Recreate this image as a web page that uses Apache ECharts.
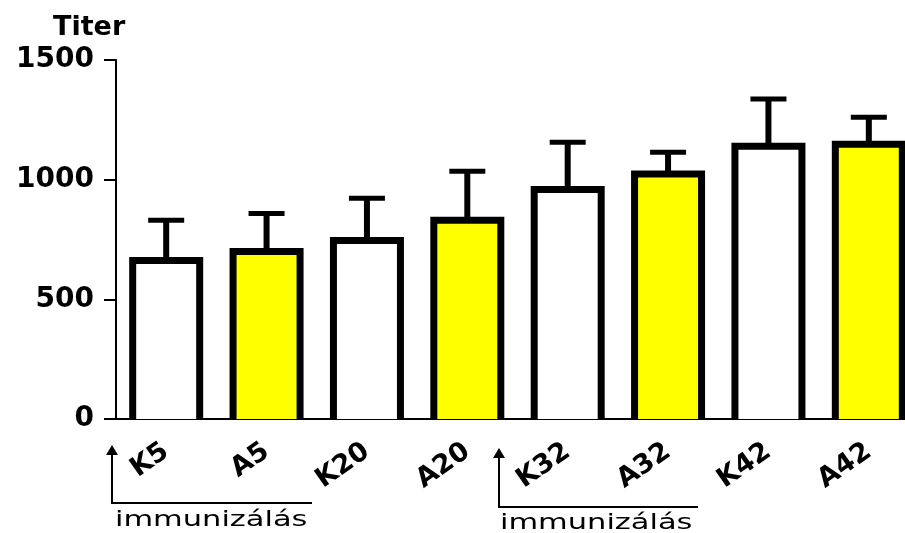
<!DOCTYPE html>
<html>
<head>
<meta charset="utf-8">
<script src="https://cdn.jsdelivr.net/npm/echarts@6/dist/echarts.min.js"></script>
<style>
html,body{margin:0;padding:0;background:#fff;}
#chart{width:905px;height:533px;}
</style>
</head>
<body>
<div id="chart"></div>
<script>
// Data
const categories = ['K5', 'A5', 'K20', 'A20', 'K32', 'A32', 'K42', 'A42'];
const means = [662, 700, 746, 830, 959, 1024, 1140, 1148];
const sdUpper = [168, 159, 176, 205, 197, 91, 197, 113];
const yTicks = [0, 500, 1000, 1500];
const axisTitle = 'Titer';
const noteText = 'immunizálás';

const chart = echarts.init(document.getElementById('chart'), null, {renderer: 'canvas'});

const barData = categories.map((c, i) => [i, means[i]]);
const errData = categories.map((c, i) => [i, means[i], sdUpper[i]]);
const BAR_W = 67, BORDER = 7;

const option = {
  animation: false,
  backgroundColor: '#ffffff',
  title: {
    text: axisTitle,
    left: 48,
    top: 9,
    textStyle: {fontFamily: 'DejaVu Sans', fontWeight: 'bold', fontSize: 27, color: '#000'}
  },
  grid: {left: 116, width: 803, top: 60, height: 359, containLabel: false, outerBoundsMode: 'none'},
  xAxis: {
    type: 'category',
    data: categories,
    boundaryGap: true,
    axisLine: {lineStyle: {color: '#000', width: 2}},
    axisTick: {alignWithLabel: true, length: 8, lineStyle: {color: '#000', width: 2}},
    axisLabel: {
      rotate: 35, margin: 30, color: '#000',
      fontFamily: 'DejaVu Sans', fontWeight: 'bold', fontSize: 27
    },
    splitLine: {show: false}
  },
  yAxis: {
    type: 'value',
    min: yTicks[0],
    max: yTicks[yTicks.length - 1],
    interval: yTicks[1] - yTicks[0],
    axisLine: {show: true, lineStyle: {color: '#000', width: 2}},
    axisTick: {show: true, length: 12, lineStyle: {color: '#000', width: 2}},
    axisLabel: {
      margin: 22, color: '#000',
      fontFamily: 'DejaVu Sans', fontWeight: 'bold', fontSize: 28,
      formatter: function (v) { return String(v); }
    },
    splitLine: {show: false}
  },
  series: [
    {
      type: 'custom',
      data: barData,
      z: 2,
      clip: false,
      renderItem: function (params, api) {
        const xi = api.value(0), m = api.value(1);
        const t = api.coord([xi, m]);
        const b = api.coord([xi, 0]);
        const l = t[0] - BAR_W / 2, r = t[0] + BAR_W / 2;
        const fill = xi % 2 ? '#ffff00' : '#ffffff';
        return {
          type: 'group',
          children: [
            {type: 'rect', shape: {x: l, y: t[1], width: BAR_W, height: b[1] - t[1]},
             style: {fill: fill, stroke: null}},
            {type: 'polyline', shape: {points: [[l, b[1]], [l, t[1]], [r, t[1]], [r, b[1]]]},
             style: {stroke: '#000', lineWidth: BORDER, fill: null, lineJoin: 'miter'}}
          ]
        };
      }
    },
    {
      type: 'custom',
      data: errData,
      z: 3,
      clip: false,
      renderItem: function (params, api) {
        const xi = api.value(0), m = api.value(1), e = api.value(2);
        const b = api.coord([xi, m]);
        const t = api.coord([xi, m + e]);
        return {
          type: 'group',
          children: [
            {type: 'line', shape: {x1: b[0], y1: b[1], x2: t[0], y2: t[1]},
             style: {stroke: '#000', lineWidth: 6}},
            {type: 'line', shape: {x1: t[0] - 18, y1: t[1], x2: t[0] + 18, y2: t[1]},
             style: {stroke: '#000', lineWidth: 5}}
          ]
        };
      }
    }
  ],
  graphic: [
    {type: 'polyline', shape: {points: [[112, 453], [112, 503], [312, 503]]},
     style: {stroke: '#000', lineWidth: 2, fill: null}},
    {type: 'polygon', shape: {points: [[112, 445], [106, 455], [118, 455]]},
     style: {fill: '#000'}},
    {type: 'text', x: 115, y: 521, scaleX: 1.45, originX: 0,
     style: {text: noteText, fontFamily: 'DejaVu Sans', fontSize: 21, fill: '#000',
             textAlign: 'left', textVerticalAlign: 'middle'}},
    {type: 'polyline', shape: {points: [[499, 456], [499, 507], [698, 507]]},
     style: {stroke: '#000', lineWidth: 2, fill: null}},
    {type: 'polygon', shape: {points: [[499, 448], [493, 458], [505, 458]]},
     style: {fill: '#000'}},
    {type: 'text', x: 500, y: 524, scaleX: 1.45, originX: 0,
     style: {text: noteText, fontFamily: 'DejaVu Sans', fontSize: 21, fill: '#000',
             textAlign: 'left', textVerticalAlign: 'middle'}}
  ]
};

chart.setOption(option);
</script>
</body>
</html>
